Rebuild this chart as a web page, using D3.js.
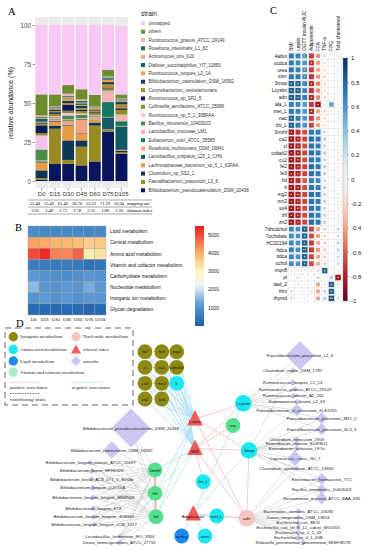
<!DOCTYPE html>
<html>
<head>
<meta charset="utf-8">
<title>microbiome figure</title>
<script src="https://cdnjs.cloudflare.com/ajax/libs/d3/7.8.5/d3.min.js"></script>
<style>
    body { margin: 0; background: #fff; }
    svg { display: block; font-family: "Liberation Sans", Arial, sans-serif; }
    .serif { font-family: "Liberation Serif", "Times New Roman", serif; }
</style>
</head>
<body>
<svg id="FIG" width="369" height="550"></svg>
<script>
// ---------------- panel A data ----------------
var days = ["D0", "D15", "D30", "D45", "D60", "D75", "D105"];
var mappingRate = [55.48, 55.49, 61.46, 58.76, 55.22, 71.29, 56.04];
var shannonIndex = [3.05, 2.48, 2.72, 2.78, 2.32, 1.89, 2.26];
var strainNames = ["unmapped", "others", "Ruminococcus_gnavus_ATCC_29149", "Roseburia_intestinalis_L1_82",
    "Actinomyces_oris_K20", "Dialister_succinatiphilus_YIT_11850", "Ruminococcus_torques_L2_14",
    "Bifidobacterium_catenulatum_DSM_16992", "Corynebacterium_ureicelerivorans", "Ruminococcus_sp_SR1_5",
    "Collinsella_aerofaciens_ATCC_25986", "Ruminococcus_sp_5_1_39BFAA", "Bacillus_timonensis_10403023",
    "Lactobacillus_mucosae_LM1", "Eubacterium_sulci_ATCC_35585", "Roseburia_inulinivorans_DSM_16841",
    "Lactobacillus_crispatus_125_2_CHN", "Lachnospiraceae_bacterium_sp_5_1_63FAA", "Clostridium_sp_SS2_1",
    "Faecalibacterium_prausnitzii_L2_6", "Bifidobacterium_pseudocatenulatum_DSM_20438"];
var strainColors = ["#f9c8f4", "#6e8b2e", "#f7b6bc", "#1f6e4a", "#f6a487", "#11625f", "#ee9b4c",
    "#123b5c", "#b58e2b", "#0b1b5e", "#8e8e22", "#f7c2ea", "#4c8c4a", "#f6b3b3", "#14785e",
    "#f4a382", "#125b66", "#e99c45", "#0d3554", "#998a22", "#0a1560"];
// relative abundance (%) per day, legend order (unmapped = 100 - mapping rate)
var abundance = [
    [13.5, 7.7, 5.5, 6.5, 7.5, 4.3, 2.6],     // others
    [1.0, 0.5, 1.5, 1.0, 0.5, 0.5, 0.5],
    [0.5, 0.5, 0.5, 1.0, 0.5, 0.3, 0.5],
    [0.5, 0.3, 0.5, 0.5, 0.5, 0.3, 0.3],
    [2.0, 0.5, 0.5, 1.0, 0.3, 1.0, 0.5],
    [0.5, 0.3, 1.5, 0.5, 0.5, 1.5, 0.5],
    [0.8, 0.8, 1.5, 1.5, 0.5, 1.5, 1.5],
    [1.0, 0.8, 1.0, 1.0, 0.8, 2.5, 2.5],
    [5.0, 1.0, 4.0, 1.0, 0.5, 0.5, 1.0],
    [1.5, 1.5, 1.5, 1.5, 1.5, 1.0, 3.0],
    [9.0, 0.5, 1.5, 1.0, 0.5, 0.5, 0.5],
    [7.0, 0.5, 2.5, 2.0, 0.5, 0.3, 0.3],
    [0.3, 0.8, 0.5, 0.5, 0.5, 6.5, 3.5],
    [0.3, 0.3, 0.5, 0.5, 0.3, 9.5, 3.0],
    [0.3, 1.0, 2.5, 8.5, 1.0, 0.3, 0.3],
    [0.5, 0.5, 0.5, 0.3, 0.3, 7.5, 15.0],
    [5.0, 2.5, 9.5, 4.5, 1.5, 0.3, 0.5],
    [5.0, 2.0, 12.5, 4.0, 2.0, 0.5, 1.0],
    [1.0, 22.5, 2.5, 12.0, 23.0, 1.0, 1.0],
    [0.8, 11.0, 11.0, 10.0, 12.5, 31.5, 17.5]
];
var abundanceTicks = [0, 25, 50, 75, 100];

// ---------------- panel B data ----------------
var pathways = ["Lipid metabolism", "Central metabolism", "Amino acid metabolism", "Vitamin and cofactor metabolism",
    "Carbohydrate metabolism", "Nucleotide metabolism", "Inorganic ion metabolism", "Glycan degradation"];
var pathwayValues = [
    [900, 850, 800, 850, 800, 750, 850],
    [4150, 4050, 3950, 3900, 3800, 3600, 3650],
    [5000, 5350, 4450, 4400, 4750, 3150, 3300],
    [600, 550, 500, 550, 500, 400, 450],
    [1150, 1050, 950, 900, 950, 1100, 1050],
    [1550, 1100, 1050, 1150, 1100, 1400, 1150],
    [1050, 1200, 1000, 1150, 1000, 1150, 1100],
    [250, 200, 200, 220, 250, 150, 200]
];
var pathwayTicks = [1000, 2000, 3000, 4000, 5000];

// ---------------- panel C data ----------------
var corrCols = ["BMI", "Leptin", "OGTT Insulin AUC", "Adiponectin", "FFA", "TNF-a", "FPG", "Total cholesterol"];
var corrRows = ["4abut", "ocdca", "urea", "xtsn", "3mop", "Lcystin", "adn", "ala_L", "met_L", "nac", "thr_L",
    "5mthf", "ca2", "cl", "cobalt2", "cu2", "fe2", "fe3", "fol", "k", "mg2", "mn2", "so4", "thf", "zn2",
    "7dhcdchol", "7ocholate", "HC02194", "hdca", "ttdca", "uchol", "mqn8", "pi", "dad_2", "thm", "thymd"];
var corrValues = [
    [0.72, 0.68, 0.62, -0.70, -0.45, -0.20, 0.05, 0.15],
    [0.70, 0.66, 0.60, -0.74, -0.42, -0.18, -0.08, 0.10],
    [0.72, 0.68, 0.63, -0.70, -0.40, -0.20, 0.05, 0.12],
    [0.72, 0.70, 0.65, -0.72, -0.45, -0.22, 0.04, 0.12],
    [0.82, 0.80, 0.66, -0.75, -0.50, -0.20, -0.06, 0.12],
    [0.84, 0.82, 0.66, -0.72, -0.48, -0.18, -0.05, 0.10],
    [0.84, 0.82, 0.68, -0.76, -0.50, -0.20, 0.05, 0.12],
    [0.70, 0.66, 0.58, -0.70, -0.85, -0.15, 0.55, 0.15],
    [0.72, 0.68, 0.60, -0.76, -0.42, -0.20, 0.05, 0.12],
    [0.80, 0.70, 0.60, -0.70, -0.45, -0.20, 0.05, 0.10],
    [0.80, 0.70, 0.60, -0.68, -0.42, -0.18, 0.04, 0.10],
    [-0.82, -0.72, -0.65, 0.72, 0.70, 0.25, 0.05, -0.15],
    [-0.86, -0.80, -0.68, 0.76, 0.72, 0.28, 0.05, -0.12],
    [-0.85, -0.80, -0.66, 0.75, 0.70, 0.26, 0.04, -0.14],
    [-0.86, -0.81, -0.68, 0.76, 0.72, 0.30, 0.06, -0.12],
    [-0.85, -0.80, -0.66, 0.74, 0.70, 0.26, 0.05, -0.15],
    [-0.86, -0.80, -0.68, 0.76, 0.72, 0.28, 0.04, -0.12],
    [-0.85, -0.80, -0.67, 0.75, 0.71, 0.27, 0.05, -0.14],
    [-0.82, -0.74, -0.62, 0.70, 0.64, 0.22, 0.04, -0.18],
    [-0.85, -0.80, -0.66, 0.74, 0.70, 0.28, 0.06, -0.12],
    [-0.86, -0.80, -0.68, 0.76, 0.72, 0.28, 0.05, -0.14],
    [-0.85, -0.80, -0.67, 0.75, 0.70, 0.27, 0.04, -0.12],
    [-0.85, -0.79, -0.66, 0.74, 0.70, 0.26, 0.05, -0.14],
    [-0.86, -0.80, -0.66, 0.74, 0.70, 0.27, 0.05, -0.15],
    [-0.85, -0.80, -0.68, 0.76, 0.72, 0.28, 0.04, -0.12],
    [0.66, 0.62, 0.82, -0.68, -0.40, -0.25, 0.04, 0.25],
    [0.64, 0.60, 0.80, -0.66, -0.42, -0.22, 0.05, 0.22],
    [0.66, 0.62, 0.82, -0.70, -0.40, -0.25, 0.04, 0.25],
    [0.68, 0.62, 0.85, -0.70, -0.44, -0.25, 0.05, 0.26],
    [0.66, 0.62, 0.82, -0.68, -0.40, -0.24, 0.04, 0.24],
    [0.64, 0.60, 0.80, -0.66, -0.38, -0.22, 0.05, 0.22],
    [0.10, -0.08, 0.12, -0.15, 0.20, 0.80, 0.10, -0.15],
    [0.08, 0.20, 0.08, 0.10, 0.25, -0.10, 0.30, -0.85],
    [0.08, 0.15, 0.10, 0.10, -0.40, 0.15, 0.80, 0.20],
    [0.20, 0.10, 0.08, 0.15, -0.40, 0.25, 0.80, 0.10],
    [0.22, 0.08, 0.15, 0.10, -0.40, 0.30, 0.85, 0.20]
];
// number of significance marks per cell
var corrSig = [
    [0,0,1,0,0,0,0,0],[0,0,0,1,0,0,0,0],[0,0,1,0,0,0,0,0],[0,0,1,0,0,0,0,0],
    [1,1,0,1,0,0,0,0],[1,1,0,0,0,0,0,0],[1,1,0,1,0,0,0,0],[0,0,0,0,1,0,0,0],
    [0,0,0,1,0,0,0,0],[1,0,0,0,0,0,0,0],[1,0,0,0,0,0,0,0],[1,0,0,0,0,0,0,0],
    [1,1,0,0,0,0,0,0],[1,1,0,0,0,0,0,0],[1,1,0,0,0,0,0,0],[1,1,0,0,0,0,0,0],
    [1,1,0,0,0,0,0,0],[1,1,0,0,0,0,0,0],[1,0,0,0,0,0,0,0],[1,1,0,0,0,0,0,0],
    [1,1,0,0,0,0,0,0],[1,1,0,0,0,0,0,0],[1,1,0,0,0,0,0,0],[1,1,0,0,0,0,0,0],
    [1,1,0,0,0,0,0,0],[0,0,1,0,0,0,0,0],[0,0,1,0,0,0,0,0],[0,0,1,0,0,0,0,0],
    [0,0,2,0,0,0,0,0],[0,0,1,0,0,0,0,0],[0,0,1,0,0,0,0,0],[0,0,0,0,0,1,0,0],
    [0,0,0,0,0,0,0,1],[0,0,0,0,0,0,1,0],[0,0,0,0,0,0,1,0],[0,0,0,0,0,0,2,0]
];
var corrTicks = [1, 0.8, 0.6, 0.4, 0.2, 0, -0.2, -0.4, -0.6, -0.8, -1];

// ---------------- panel D data ----------------
var metNames = ["fe2", "fe3", "mg2", "cl", "ca2", "cobalt2", "cu2", "mn2", "k", "zn2", "so4",
    "Lcystin", "nac", "3mop", "thr_L", "met_L", "urea", "adn", "ocdca", "5mthf", "thf", "fol",
    "Leptin", "BMI", "Adiponectin"];
var metClass = ["ino", "ino", "ino", "ino", "ino", "ino", "ino", "ino", "amino", "ino", "ino",
    "amino", "vit", "amino", "amino", "amino", "amino", "nuc", "lipid", "vit", "vit", "vit",
    "clin", "clin", "clin"];
// layout coordinates inside panel D
var metLayoutX = [145, 161.7, 176.7, 145, 161.7, 176.7, 145, 161.7, 176.7, 145, 161.7,
    243.3, 233, 249, 203.3, 216.7, 205, 246.7, 181.7, 155, 155, 156, 195, 195, 193.3];
var metLayoutY = [26.7, 26.7, 26.7, 42.3, 42.3, 42.3, 58.3, 58.3, 58.3, 74, 74,
    78.3, 100.5, 125.5, 156.7, 191, 211, 193.3, 211, 145, 168.3, 191.7, 94, 123.5, 189];

var microbeNames = ["Faecalibacterium_prausnitzii_L2_6", "Clostridium_nexile_DSM_1787", "Ruminococcus_torques_L2_14",
    "Ruminococcus_gnavus_ATCC_29149", "Ruminococcus_obeum_A2_162", "Ruminococcus_bromii_L2_63",
    "Faecalibacterium_cf_prausnitzii_KLE1255", "Faecalibacterium_prausnitzii_M21_2", "Faecalibacterium_prausnitzii_SL3_3",
    "Clostridium_innocuum_2959", "Enterobacter_cloacae_EcWSU1", "Enterobacter_asburiae_LF7a",
    "Coprococcus_catus_GD_7", "Clostridium_symbiosum_ATCC_14940", "Enterobacter_hormaechei_YT2",
    "Bacillus_timonensis_10403023", "Roseomonas_mucosa_ATCC_BAA_692", "Bacteroides_stercoris_ATCC_43183",
    "Dorea_longicatena_DSM_13814", "Escherichia_coli_SE11", "Escherichia_coli_str_K_12_substr_MG1655",
    "Escherichia_sp_1_1_43", "Escherichia_sp_4_1_40B", "Klebsiella_pneumoniae_pneumoniae_MGH78578",
    "Bifidobacterium_pseudocatenulatum_DSM_20438", "Bifidobacterium_catenulatum_DSM_16992",
    "Bifidobacterium_longum_infantis_ATCC_15697", "Bifidobacterium_breve_HPH0326",
    "Bifidobacterium_breve_ACS_071_V_Sch8b", "Bifidobacterium_longum_DJO10A",
    "Bifidobacterium_longum_longum_BBMN68", "Bifidobacterium_longum_E18",
    "Bifidobacterium_longum_longum_JDM301", "Bifidobacterium_longum_longum_JCM_1217",
    "Lactobacillus_fermentum_IFO_3956", "Dorea_formicigenerans_ATCC_27755"];
var microbeDegree = [9, 1, 1, 1, 1, 1, 2, 2, 2, 1, 1, 1, 3, 1, 2, 3, 2, 1, 1, 1, 1, 1, 1, 1,
    10, 3, 1, 1, 1, 1, 1, 1, 1, 1, 1, 1];
var microbeLayoutX = [300, 292.7, 292.7, 295, 293.3, 296.7, 296.7, 321.7, 321.7, 296.7, 296.7, 296.7,
    295, 296.7, 321.7, 321.7, 321.7, 298.3, 298.3, 298.3, 298.3, 298.3, 298.3, 303,
    131, 111.7, 90.7, 91.7, 91.7, 92.7, 93.3, 93.3, 94, 94, 120, 119.3];
var microbeLayoutY = [30.5, 45.7, 57.3, 64, 70.7, 76.7, 85, 93.3, 104.3, 114.3, 118.3, 123.3,
    133.3, 143.3, 154, 164.3, 173.3, 186, 192.3, 197.7, 202.3, 207.3, 212.3, 217.3,
    103, 125, 137.7, 145.7, 154, 162.7, 172.3, 183.3, 191.7, 199.3, 211, 217.7];

var inorganic = ["fe2", "fe3", "mg2", "cl", "ca2", "cobalt2", "cu2", "mn2", "k", "zn2", "so4"];
var clusterPositive = [["fe2","fe3"],["fe3","mg2"],["cl","ca2"],["ca2","cobalt2"],["cu2","mn2"],["mn2","k"],
    ["zn2","so4"],["fe2","cl"],["cl","cu2"],["cu2","zn2"],["fe3","ca2"],["ca2","mn2"],["mn2","so4"],
    ["mg2","cobalt2"],["cobalt2","k"],["fe2","ca2"],["fe3","cl"],["fe3","cobalt2"],["mg2","ca2"],
    ["cl","mn2"],["ca2","cu2"],["ca2","k"],["cobalt2","mn2"],["cu2","so4"],["mn2","zn2"]];
var otherPositive = [["3mop","BMI"],["3mop","Leptin"],["Lcystin","BMI"],["Lcystin","Leptin"],["adn","BMI"],
    ["adn","Leptin"],["nac","BMI"],["thr_L","BMI"],["met_L","adn"],["3mop","adn"]];
var folatePositive = [["5mthf","thf"],["thf","fol"]];
var otherNegative = [["5mthf","BMI"],["thf","BMI"],["thf","Leptin"],["fol","BMI"],["fol","Leptin"],
    ["3mop","Adiponectin"],["adn","Adiponectin"],["met_L","Adiponectin"],["ocdca","Adiponectin"],
    ["urea","Adiponectin"],["Lcystin","Adiponectin"]];
var contribLcystin = microbeNames.slice(0, 9);
var contrib3mop = microbeNames.slice(6, 17).concat(["Faecalibacterium_prausnitzii_L2_6"]);
var contribAdn = microbeNames.slice(12, 24);
var contribFolate = microbeNames.slice(24, 36);

// ================= drawing =================
var svg = d3.select("#FIG");

// panel letters
svg.selectAll("text.panel").data([["A", 8, 15], ["B", 15, 231], ["C", 270, 14], ["D", 16, 327]])
    .join("text").attr("class", "panel serif")
    .attr("x", function(d){ return d[1]; }).attr("y", function(d){ return d[2]; })
    .style("font-size", "10.5px").text(function(d){ return d[0]; });

// ---------- A ----------
var gA = svg.append("g");
var xA = d3.scaleBand().domain(days).range([35, 128]).paddingInner(0.1).paddingOuter(0.05);
var yA = d3.scaleLinear().domain([0, 100]).range([181, 25]);

gA.append("rect").attr("x", 35).attr("y", 17).attr("width", 93).attr("height", 171).attr("fill", "#ebebeb");

var stackRows = days.map(function(d, i){
    var row = { day: d };
    row["unmapped"] = +(100 - mappingRate[i]).toFixed(2);
    abundance.forEach(function(s, k){ row[strainNames[k + 1]] = s[i]; });
    return row;
});
var stackKeys = strainNames.slice().reverse();   // bottom of bar = last legend entry
var stacked = d3.stack().keys(stackKeys)(stackRows);
var colorA = d3.scaleOrdinal().domain(strainNames).range(strainColors);

gA.append("g").selectAll("g").data(stacked).join("g")
    .attr("fill", function(d){ return colorA(d.key); })
    .selectAll("rect").data(function(d){ return d; }).join("rect")
    .attr("x", function(d){ return xA(d.data.day); })
    .attr("width", xA.bandwidth())
    .attr("y", function(d){ return yA(d[1]); })
    .attr("height", function(d){ return Math.max(0, yA(d[0]) - yA(d[1])); });

// white separators between bars
gA.append("g").selectAll("line").data(days.slice(1)).join("line")
    .attr("x1", function(d){ return xA(d) - xA.step() * xA.paddingInner() / 2; })
    .attr("x2", function(d){ return xA(d) - xA.step() * xA.paddingInner() / 2; })
    .attr("y1", 17).attr("y2", 188).attr("stroke", "#fff").attr("stroke-width", 0.9);

var axA = gA.append("g").attr("transform", "translate(35,0)")
    .call(d3.axisLeft(yA).tickValues(abundanceTicks).tickSize(2.5).tickPadding(1.5));
axA.select(".domain").remove();
axA.selectAll("text").style("font-size", "6.3px").attr("fill", "#4d4d4d").style("font-family", "Liberation Sans, Arial");
axA.selectAll("line").attr("stroke", "#333").attr("stroke-width", 0.5);

var axAx = gA.append("g").attr("transform", "translate(0,188)")
    .call(d3.axisBottom(xA).tickSize(2.5).tickPadding(1));
axAx.select(".domain").remove();
axAx.selectAll("text").style("font-size", "6px").attr("fill", "#333").style("font-family", "Liberation Sans, Arial");
axAx.selectAll("line").attr("stroke", "#333").attr("stroke-width", 0.5);

gA.append("text").attr("transform", "translate(13,103) rotate(-90)").attr("text-anchor", "middle")
    .style("font-size", "7px").attr("fill", "#222").text("relative abundance (%)");

// legend
gA.append("text").attr("x", 141).attr("y", 16).style("font-size", "6.5px").attr("fill", "#222").text("strain");
var legA = gA.append("g").selectAll("g").data(strainNames).join("g")
    .attr("transform", function(d, i){ return "translate(141," + (23.3 + i * 8.35) + ")"; });
legA.append("rect").attr("x", 0).attr("y", -2).attr("width", 4).attr("height", 4)
    .attr("fill", function(d){ return colorA(d); });
legA.append("text").attr("x", 7.5).attr("y", 1.5).style("font-size", "4.5px").attr("fill", "#333")
    .text(function(d){ return d; });

// mapping rate table
var xT = d3.scaleBand().domain(days).range([28, 126]);
var gT = gA.append("g").attr("class", "serif").style("font-size", "4.4px");
[200, 207, 214].forEach(function(yy){
    gT.append("line").attr("x1", 28).attr("x2", 152).attr("y1", yy).attr("y2", yy)
        .attr("stroke", "#222").attr("stroke-width", 0.4);
});
gT.selectAll("text.mr").data(mappingRate).join("text").attr("class", "mr")
    .attr("x", function(d, i){ return xT(days[i]) + xT.bandwidth() / 2; }).attr("y", 205)
    .attr("text-anchor", "middle").text(function(d){ return d.toFixed(2); });
gT.selectAll("text.sh").data(shannonIndex).join("text").attr("class", "sh")
    .attr("x", function(d, i){ return xT(days[i]) + xT.bandwidth() / 2; }).attr("y", 212)
    .attr("text-anchor", "middle").text(function(d){ return d.toFixed(2); });
gT.append("text").attr("x", 127).attr("y", 205).text("mapping rate");
gT.append("text").attr("x", 127).attr("y", 212).text("shannon index");

// ---------- B ----------
var gB = svg.append("g");
var xB = d3.scaleBand().domain(days).range([28, 106]);
var yB = d3.scaleBand().domain(pathways).range([226, 315]);
var colB = d3.scaleLinear()
    .domain([0, 1200, 2200, 3000, 4000, 5000, 5500])
    .range(["#1b60aa", "#5b9bd5", "#e8f4fb", "#fff7bc", "#fdb068", "#f5493a", "#f01e1e"])
    .clamp(true);
pathways.forEach(function(p, r){
    gB.append("g").selectAll("rect").data(pathwayValues[r]).join("rect")
        .attr("x", function(d, i){ return xB(days[i]); })
        .attr("y", yB(p)).attr("width", xB.bandwidth()).attr("height", yB.bandwidth())
        .attr("fill", function(d){ return colB(d); })
        .attr("stroke", "#9a9a9a").attr("stroke-width", 0.4);
});
gB.selectAll("text.pw").data(pathways).join("text").attr("class", "pw")
    .attr("x", 110).attr("y", function(d){ return yB(d) + yB.bandwidth() / 2 + 1.8; })
    .style("font-size", "5px").attr("fill", "#111").text(function(d){ return d; });
gB.selectAll("text.bd").data(days).join("text").attr("class", "bd")
    .attr("x", function(d){ return xB(d) + xB.bandwidth() / 2; }).attr("y", 321)
    .attr("text-anchor", "middle").style("font-size", "4.4px").attr("fill", "#111")
    .text(function(d){ return d; });
// colour bar
var cbB = d3.scaleLinear().domain([0, 5500]).range([326, 226]);
var gradB = svg.append("defs").append("linearGradient").attr("id", "gradB")
    .attr("x1", 0).attr("y1", 1).attr("x2", 0).attr("y2", 0);
d3.range(0, 5501, 250).forEach(function(v){
    gradB.append("stop").attr("offset", v / 5500).attr("stop-color", colB(v));
});
gB.append("rect").attr("x", 195).attr("y", 226).attr("width", 9).attr("height", 100).attr("fill", "url(#gradB)");
gB.selectAll("text.bt").data(pathwayTicks).join("text").attr("class", "bt")
    .attr("x", 208).attr("y", function(d){ return cbB(d) + 1.8; })
    .style("font-size", "5px").attr("fill", "#222").text(function(d){ return d; });

// ---------- C ----------
var gC = svg.append("g");
var xC = d3.scaleBand().domain(corrCols).range([288, 341.4]);
var yC = d3.scaleBand().domain(corrRows).range([52.5, 301.8]);
var colC = function(r){ return d3.interpolateRdBu((r + 1) / 2); };
corrRows.forEach(function(rn, r){
    var row = gC.append("g");
    row.selectAll("rect.bg").data(corrCols).join("rect").attr("class", "bg")
        .attr("x", function(c){ return xC(c); }).attr("y", yC(rn))
        .attr("width", xC.bandwidth()).attr("height", yC.bandwidth())
        .attr("fill", "#fff").attr("stroke", "#d6d6d6").attr("stroke-width", 0.35);
    row.selectAll("rect.sq").data(corrValues[r]).join("rect").attr("class", "sq")
        .each(function(v, i){
            var s = (xC.bandwidth() - 0.7) * Math.sqrt(Math.abs(v));
            var cx = xC(corrCols[i]) + xC.bandwidth() / 2, cy = yC(rn) + yC.bandwidth() / 2;
            d3.select(this).attr("x", cx - s / 2).attr("y", cy - s / 2)
                .attr("width", s).attr("height", s).attr("fill", colC(v));
        });
    corrSig[r].forEach(function(n, i){
        var cx = xC(corrCols[i]) + xC.bandwidth() / 2, cy = yC(rn) + yC.bandwidth() / 2;
        for (var k = 0; k < n; k++) {
            row.append("circle").attr("cx", cx + (k - (n - 1) / 2) * 1.8).attr("cy", cy)
                .attr("r", 0.75).attr("fill", "#f2e600");
        }
    });
});
gC.selectAll("text.rl").data(corrRows).join("text").attr("class", "rl")
    .attr("x", 287).attr("y", function(d){ return yC(d) + yC.bandwidth() / 2 + 1.7; })
    .attr("text-anchor", "end").style("font-size", "4.9px").attr("fill", "#111").text(function(d){ return d; });
gC.selectAll("text.cl").data(corrCols).join("text").attr("class", "cl")
    .attr("transform", function(d){ return "translate(" + (xC(d) + xC.bandwidth() / 2 + 1.7) + ",51) rotate(-90)"; })
    .style("font-size", "4.9px").attr("fill", "#111").text(function(d){ return d; });
var cbC = d3.scaleLinear().domain([-1, 1]).range([301, 58]);
var gradC = svg.select("defs").append("linearGradient").attr("id", "gradC")
    .attr("x1", 0).attr("y1", 1).attr("x2", 0).attr("y2", 0);
d3.range(-1, 1.001, 0.1).forEach(function(v){
    gradC.append("stop").attr("offset", (v + 1) / 2).attr("stop-color", colC(v));
});
gC.append("rect").attr("x", 343).attr("y", 58).attr("width", 4.5).attr("height", 243)
    .attr("fill", "url(#gradC)").attr("stroke", "#888").attr("stroke-width", 0.3);
gC.selectAll("line.ct").data(corrTicks).join("line").attr("class", "ct")
    .attr("x1", 347.5).attr("x2", 349).attr("y1", function(d){ return cbC(d); }).attr("y2", function(d){ return cbC(d); })
    .attr("stroke", "#333").attr("stroke-width", 0.4);
gC.selectAll("text.ctl").data(corrTicks).join("text").attr("class", "ctl")
    .attr("x", 351).attr("y", function(d){ return cbC(d) + 2.2; })
    .style("font-size", "6px").attr("fill", "#222").text(function(d){ return String(Math.round(d * 10) / 10); });

// ---------- D ----------
var gD = svg.append("g");
var xD = d3.scaleLinear().domain([0, 369]).range([0, 369]);
var yD = d3.scaleLinear().domain([0, 225]).range([325, 550]);
var classFill = { ino: "#8c8a10", amino: "#19e8f2", vit: "#52e08c", lipid: "#1a8cf0", nuc: "#f7c4c4", clin: "#f25a5a" };

var pos = {};
metNames.forEach(function(n, i){ pos[n] = [xD(metLayoutX[i]), yD(metLayoutY[i])]; });
microbeNames.forEach(function(n, i){ pos[n] = [xD(microbeLayoutX[i]), yD(microbeLayoutY[i])]; });

function drawLinks(pairs, color, width, dash){
    gD.append("g").selectAll("line").data(pairs).join("line")
        .attr("x1", function(d){ return pos[d[0]][0]; }).attr("y1", function(d){ return pos[d[0]][1]; })
        .attr("x2", function(d){ return pos[d[1]][0]; }).attr("y2", function(d){ return pos[d[1]][1]; })
        .attr("stroke", color).attr("stroke-width", width).attr("stroke-dasharray", dash || null);
}
var strainPairs = [];
contribLcystin.forEach(function(m){ strainPairs.push([m, "Lcystin"]); });
contrib3mop.forEach(function(m){ strainPairs.push([m, "3mop"]); });
contribAdn.forEach(function(m){ strainPairs.push([m, "adn"]); });
contribFolate.forEach(function(m){ ["5mthf", "thf", "fol"].forEach(function(t){ strainPairs.push([m, t]); }); });
var negPairs = [];
inorganic.forEach(function(n){ negPairs.push([n, "Leptin"]); negPairs.push([n, "BMI"]); });
negPairs = negPairs.concat(otherNegative);

drawLinks(strainPairs, "#b4b4b4", 0.4);
drawLinks(negPairs, "#86cfe8", 0.5);
drawLinks(otherPositive, "#f4a4a4", 0.6);
drawLinks(clusterPositive, "#f2b4b4", 0.6, "1.2,0.8");
drawLinks(folatePositive, "#f5b8b8", 2.4);

// microbe diamonds
var diam = function(x, y, s){ return "M" + x + "," + (y - s) + "L" + (x + s) + "," + y + "L" + x + "," + (y + s) + "L" + (x - s) + "," + y + "Z"; };
var sizeMicrobe = d3.scaleSqrt().domain([1, 10]).range([2.6, 19]);
var gM = gD.append("g");
microbeNames.forEach(function(n, i){
    var p = pos[n], s = sizeMicrobe(microbeDegree[i]);
    if (n === "Faecalibacterium_prausnitzii_L2_6") s = 14;
    if (n === "Bacillus_timonensis_10403023") s = 5;
    if (n === "Coprococcus_catus_GD_7") s = 7.5;
    gM.append("path").attr("d", diam(p[0], p[1], s)).attr("fill", "#c8c8f2")
        .attr("stroke", "#b0b0e6").attr("stroke-width", 0.4);
});
gM.selectAll("text").data(microbeNames).join("text")
    .attr("x", function(d){ return pos[d][0]; }).attr("y", function(d){ return pos[d][1] + 1.5; })
    .attr("text-anchor", "middle").style("font-size", "4.3px").attr("fill", "#222")
    .text(function(d){ return d; });

// metabolite / clinical nodes
var gN = gD.append("g");
metNames.forEach(function(n, i){
    var p = pos[n], c = metClass[i];
    if (c === "clin") {
        gN.append("path").attr("d", "M" + p[0] + "," + (p[1] - 9) + "L" + (p[0] + 7.8) + "," + (p[1] + 6.5) +
            "L" + (p[0] - 7.8) + "," + (p[1] + 6.5) + "Z").attr("fill", classFill.clin);
        gN.append("text").attr("x", p[0]).attr("y", p[1] + 4).attr("text-anchor", "middle")
            .style("font-size", "4.4px").attr("fill", "#111").text(n);
    } else {
        var r = (n === "adn" || n === "Lcystin" || n === "3mop") ? 8.3 : 7.4;
        gN.append("circle").attr("cx", p[0]).attr("cy", p[1]).attr("r", r).attr("fill", classFill[c]);
        gN.append("text").attr("x", p[0]).attr("y", p[1] + 1.5).attr("text-anchor", "middle")
            .style("font-size", "4.3px").attr("fill", "#111").text(n);
    }
});

// legend box
var gL = gD.append("g").attr("class", "serif");
gL.append("rect").attr("x", 5).attr("y", 328).attr("width", 128).attr("height", 77)
    .attr("fill", "none").attr("stroke", "#555").attr("stroke-width", 0.9).attr("stroke-dasharray", "6,4");
var legItems = [
    ["ino", "Inorganic metabolism", 13.3, 336.7], ["nuc", "Nucleotide metabolism", 76, 336.7],
    ["amino", "Amino acid metabolism", 13.3, 349.5], ["clin", "clinical index", 76, 349.5],
    ["lipid", "Lipid metabolism", 13.3, 361], ["mic", "microbe", 76, 361],
    ["vit", "Vitamin and cofactor metabolism", 13.3, 372.3]
];
legItems.forEach(function(d){
    if (d[0] === "clin") {
        gL.append("path").attr("d", "M" + d[2] + "," + (d[3] - 5) + "L" + (d[2] + 5) + "," + (d[3] + 4) +
            "L" + (d[2] - 5) + "," + (d[3] + 4) + "Z").attr("fill", classFill.clin);
    } else if (d[0] === "mic") {
        gL.append("path").attr("d", diam(d[2], d[3], 5)).attr("fill", "#c8c8f2");
    } else {
        gL.append("circle").attr("cx", d[2]).attr("cy", d[3]).attr("r", 4.7)
            .attr("fill", d[0] === "vit" ? "#a8eec4" : classFill[d[0]]);
    }
    gL.append("text").attr("x", d[2] + 7).attr("y", d[3] + 1.7).style("font-size", "4.8px").attr("fill", "#222").text(d[1]);
});
[["#f4a4a4", 10, 40, 382.3, "positive correlation", 388.6],
 ["#86cfe8", 71.7, 101.7, 382.3, "negative correlation", 388.6],
 ["#555", 10, 40, 393.5, "contributing strain", 400.8]].forEach(function(d){
    gL.append("line").attr("x1", d[1]).attr("x2", d[2]).attr("y1", d[3]).attr("y2", d[3])
        .attr("stroke", d[0]).attr("stroke-width", 0.8).attr("stroke-dasharray", "1.5,1");
    gL.append("text").attr("x", d[1]).attr("y", d[5]).style("font-size", "4.8px").attr("fill", "#222").text(d[4]);
});
</script>
</body>
</html>
